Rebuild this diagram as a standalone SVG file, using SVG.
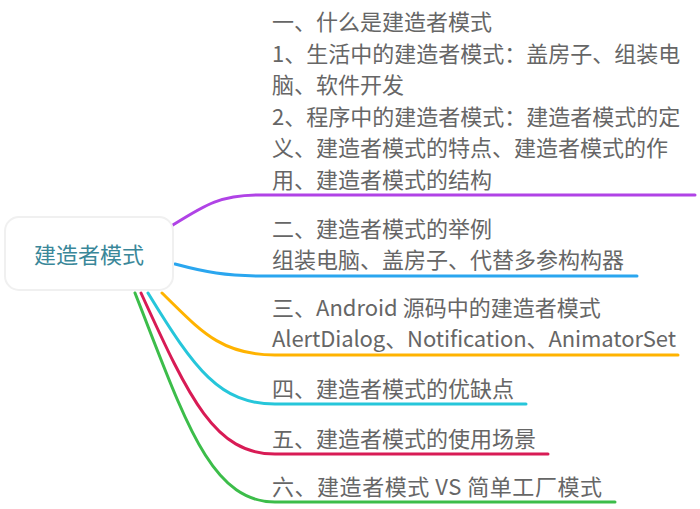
<svg xmlns="http://www.w3.org/2000/svg" width="700" height="509" viewBox="0 0 700 509">
<style>
.t{font-family:"Noto Sans CJK SC","Noto Sans",sans-serif;font-size:22px;fill:#666666}
.root{font-family:"Noto Sans CJK SC","Noto Sans",sans-serif;font-size:22px;fill:#3a8799;text-anchor:middle}
.c{fill:none;stroke-width:3;stroke-linecap:round}
</style>
<rect width="700" height="509" fill="#ffffff"/>
<g id="connectors">
<path class="c" stroke="#b043e6" d="M173,225 C205,205 220,195 260,195 L695,195"/>
<path class="c" stroke="#2aa6ef" d="M175,264 C205,272 225,276 265,276 L637,276"/>
<path class="c" stroke="#ffb300" d="M162,293 C200,330 220,355 275,355 L678,355"/>
<path class="c" stroke="#26c6da" d="M148,293 C195,370 220,404 275,404 L526,404"/>
<path class="c" stroke="#d81b55" d="M141,293 C190,400 215,454 275,454 L548,454"/>
<path class="c" stroke="#3cbd4a" d="M135,293 C185,420 210,502 275,502 L615,502"/>
</g>
<g id="root">
<rect x="5" y="217" width="168" height="73" rx="14" fill="#ffffff" stroke="#f0f0f0" stroke-width="2"/>
<text class="root" x="89" y="263">建造者模式</text>
</g>
<g id="n1">
<text class="t" x="272" y="30">一、什么是建造者模式</text>
<text class="t" x="272" y="61.5">1、生活中的建造者模式：盖房子、组装电</text>
<text class="t" x="272" y="93">脑、软件开发</text>
<text class="t" x="272" y="124.5">2、程序中的建造者模式：建造者模式的定</text>
<text class="t" x="272" y="156">义、建造者模式的特点、建造者模式的作</text>
<text class="t" x="272" y="187.5">用、建造者模式的结构</text>
</g>
<g id="n2">
<text class="t" x="272" y="236.5">二、建造者模式的举例</text>
<text class="t" x="272" y="268">组装电脑、盖房子、代替多参构构器</text>
</g>
<g id="n3">
<text class="t" x="272" y="315.5">三、Android 源码中的建造者模式</text>
<text class="t" x="272" y="347" textLength="404" lengthAdjust="spacing">AlertDialog、Notification、AnimatorSet</text>
</g>
<g id="n4">
<text class="t" x="272" y="396.5">四、建造者模式的优缺点</text>
</g>
<g id="n5">
<text class="t" x="272" y="446.5">五、建造者模式的使用场景</text>
</g>
<g id="n6">
<text class="t" x="272" y="494.5" textLength="330" lengthAdjust="spacing">六、建造者模式 VS 简单工厂模式</text>
</g>
</svg>
